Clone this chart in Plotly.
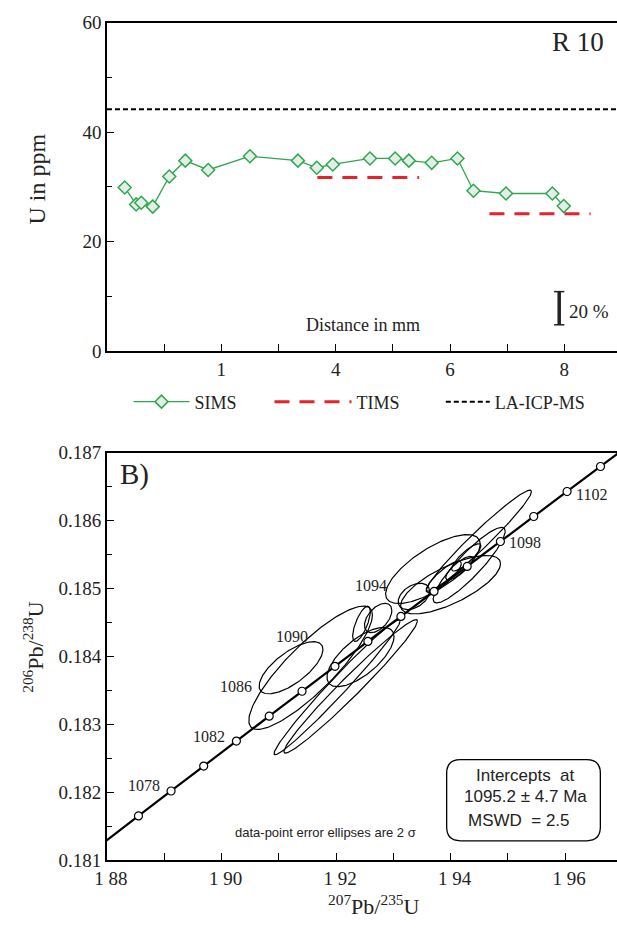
import numpy as np
import plotly.graph_objects as go

W, H = 617, 929
SERIF = "Liberation Serif"
SANS = "Liberation Sans"

# ---------------- Panel A data (U content profile) ----------------
sims_dist = [0.31, 0.51, 0.60, 0.80, 1.09, 1.37, 1.77, 2.50, 3.34, 3.67,
             3.95, 4.60, 5.04, 5.28, 5.68, 6.13, 6.41, 6.98, 7.79, 7.99]
sims_u = [29.9, 26.8, 27.1, 26.4, 31.9, 34.8, 33.1, 35.6, 34.8, 33.5,
          34.1, 35.2, 35.2, 34.8, 34.4, 35.2, 29.3, 28.8, 28.8, 26.5]
tims_dist = [3.68, 5.46, None, 6.69, 8.46]
tims_u = [31.7, 31.7, None, 25.1, 25.1]
la_dist = [0.0, 8.92]
la_u = [44.2, 44.2]

xA_tickvals = [1, 2, 3, 4, 5, 6, 7, 8]
xA_ticktext = ["", "1", "", "4", "", "6", "", "8"]
yA_tickvals = [0, 20, 40, 60]

# ---------------- Panel B data (concordia) ----------------
conc_age = [1072, 1074, 1076, 1078, 1080, 1082, 1084, 1086, 1088, 1090,
            1092, 1094, 1096, 1098, 1100, 1102, 1104, 1106]
conc_x = [1.87416, 1.87983, 1.88550, 1.89119, 1.89689, 1.90260, 1.90833, 1.91406,
          1.91981, 1.92556, 1.93133, 1.93711, 1.94290, 1.94870, 1.95452, 1.96034,
          1.96618, 1.97203]
conc_y = [0.180921, 0.181287, 0.181654, 0.182021, 0.182388, 0.182755, 0.183122,
          0.183489, 0.183856, 0.184223, 0.184591, 0.184958, 0.185326, 0.185694,
          0.186062, 0.186430, 0.186798, 0.187166]
mark_age = [1076, 1078, 1080, 1082, 1084, 1086, 1088, 1090, 1092, 1094,
            1096, 1098, 1100, 1102, 1104]

label_text = ["1078", "1082", "1086", "1090", "1094", "1098", "1102"]
label_x = [1.88650, 1.89786, 1.90256, 1.91231, 1.92615, 1.95291, 1.96453]
label_y = [0.182108, 0.182827, 0.183561, 0.184299, 0.185039, 0.185676, 0.186381]

# error ellipses: centre, 2-sigma errors, correlation
ell_x = [1.94496, 1.93692, 1.94000, 1.93359, 1.94154, 1.93880, 1.94274, 1.94325,
         1.91214, 1.91556, 1.92427, 1.92017, 1.92256, 1.92444, 1.92735]
ell_y = [0.185705, 0.185288, 0.185058, 0.184885, 0.185302, 0.185173, 0.185460, 0.185345,
         0.183835, 0.183835, 0.183993, 0.183547, 0.183561, 0.184482, 0.184568]
ell_sx = [0.00916, 0.00826, 0.00872, 0.00274, 0.00239, 0.00308, 0.00256, 0.00629,
          0.00557, 0.01079, 0.00585, 0.01101, 0.01166, 0.00154, 0.00239]
ell_sy = [0.000745, 0.000507, 0.000430, 0.000194, 0.000173, 0.000230, 0.000201, 0.000556,
          0.000384, 0.000908, 0.000436, 0.000993, 0.000982, 0.000259, 0.000216]
ell_rho = [0.971, 0.724, 0.717, 0.40, 0.80, 0.85, 0.85, 0.90,
           0.70, 0.855, 0.684, 0.983, 0.9785, 0.70, 0.50]

xB_tickvals = [1.88, 1.89, 1.90, 1.91, 1.92, 1.93, 1.94, 1.95, 1.96]
xB_ticktext = ["1 88", "", "1 90", "", "1 92", "", "1 94", "", "1 96"]

# ---------------- figure ----------------
fig = go.Figure()

GREEN = "#2ea84e"
fig.add_trace(go.Scatter(
    x=sims_dist, y=sims_u, mode="lines+markers", name="SIMS", legend="legend",
    line=dict(color=GREEN, width=1.3),
    marker=dict(symbol="diamond", size=10, color="#e4eee6",
                line=dict(color=GREEN, width=1.5)),
    xaxis="x", yaxis="y"))
fig.add_trace(go.Scatter(
    x=tims_dist, y=tims_u, mode="lines", name="TIMS", legend="legend2",
    line=dict(color="#e8212b", width=3, dash="15px,10px"),
    xaxis="x", yaxis="y"))
fig.add_trace(go.Scatter(
    x=la_dist, y=la_u, mode="lines", name="LA-ICP-MS", legend="legend3",
    line=dict(color="black", width=2, dash="5px,3px"),
    xaxis="x", yaxis="y"))

# ellipses (outline from centre / errors / correlation)
ex, ey = [], []
t = np.linspace(0, 2 * np.pi, 181)
for cx, cy, sx, sy, r in zip(ell_x, ell_y, ell_sx, ell_sy, ell_rho):
    xs = cx + sx * np.cos(t)
    ys = cy + sy * (r * np.cos(t) + np.sqrt(1 - r * r) * np.sin(t))
    ex += list(xs) + [None]
    ey += list(ys) + [None]
fig.add_trace(go.Scatter(x=ex, y=ey, mode="lines", showlegend=False,
                         line=dict(color="black", width=1.2),
                         xaxis="x2", yaxis="y2", hoverinfo="skip"))

fig.add_trace(go.Scatter(x=conc_x, y=conc_y, mode="lines", showlegend=False,
                         line=dict(color="black", width=2.2, shape="spline"),
                         xaxis="x2", yaxis="y2"))
mx = [conc_x[conc_age.index(a)] for a in mark_age]
my = [conc_y[conc_age.index(a)] for a in mark_age]
fig.add_trace(go.Scatter(x=mx, y=my, mode="markers", showlegend=False,
                         marker=dict(symbol="circle", size=8, color="white",
                                     line=dict(color="black", width=1.2)),
                         xaxis="x2", yaxis="y2"))

xdom = [96 / W, 1.0]
yA_dom = [1 - 349 / H, 1 - 13 / H]
yB_dom = [1 - 870 / H, 1 - 453 / H]

axis_common = dict(showgrid=False, zeroline=False, showline=True, linecolor="black",
                   ticks="inside", tickcolor="black", ticklen=7,
                   tickfont=dict(family=SERIF, size=19, color="#222"))


def LEG(px, iw):
    return dict(orientation="h", x=px / W, y=1 - 401 / H, xanchor="left", yanchor="middle",
                font=dict(family=SERIF, size=18, color="#222"), itemwidth=iw,
                bgcolor="rgba(0,0,0,0)", borderwidth=0)


fig.update_layout(
    width=W, height=H, margin=dict(l=0, r=0, t=0, b=0),
    plot_bgcolor="white", paper_bgcolor="white",
    xaxis=dict(domain=xdom, range=[0, 8.921], anchor="y", mirror=True, linewidth=1.5,
               tickvals=xA_tickvals, ticktext=xA_ticktext, **axis_common),
    yaxis=dict(domain=yA_dom, range=[0, 60], anchor="x", linewidth=1.5,
               tickvals=yA_tickvals,
               minor=dict(dtick=10, tick0=0, ticks="inside", ticklen=5, tickcolor="black"),
               **axis_common),
    xaxis2=dict(domain=xdom, range=[1.88, 1.96906], anchor="y2", mirror=True, linewidth=2,
                tickvals=xB_tickvals, ticktext=xB_ticktext, ticklabelshift=4,
                **axis_common),
    yaxis2=dict(domain=yB_dom, range=[0.181, 0.187], anchor="x2", linewidth=2,
                dtick=0.001, tick0=0.181, tickformat=".3f",
                minor=dict(dtick=0.0005, tick0=0.181, ticks="inside", ticklen=5,
                           tickcolor="black"),
                **axis_common),
    showlegend=True,
    legend=LEG(118, 56),
    legend2=LEG(262, 77),
    legend3=LEG(437, 44),
)


def A(text, px, py, size, family=SERIF, xa="center", ya="middle", angle=0, xref="paper",
      yref="paper"):
    if xref == "paper":
        px, py = px / W, 1 - py / H
    return dict(text=text, x=px, y=py, xref=xref, yref=yref, xanchor=xa, yanchor=ya,
                textangle=angle, showarrow=False,
                font=dict(family=family, size=size, color="#222"))


ann = [
    A("R 10", 577, 33, 27),
    A("Distance in mm", 358, 322, 18),
    A("20 %", 566, 308, 19, xa="left"),
    A("U in ppm", 25, 173, 24, angle=-90),
    A("B)", 124, 475, 29),
    A("<sup>206</sup>Pb/<sup>238</sup>U", 21, 652, 22, angle=-90),
    A("<sup>207</sup>Pb/<sup>235</sup>U", 369, 916, 22),
    A("data-point error ellipses are 2 σ", 319, 842, 13, family=SANS),
    A("Intercepts  at", 524, 783, 17, family=SANS),
    A("1095.2 ± 4.7 Ma", 524, 805, 17, family=SANS),
    A("MSWD  = 2.5", 517, 829, 17, family=SANS),
]
for txt, xx, yy in zip(label_text, label_x, label_y):
    ann.append(A(txt, xx, yy, 16, xref="x2", yref="y2"))
fig.update_layout(annotations=ann)

# rounded box for intercept text
bx0, bx1, by0, by1, rr = 443, 600, 767, 850, 14


def P(px, py):
    return f"{px / W:.5f},{1 - py / H:.5f}"


path = (f"M{P(bx0 + rr, by0)} L{P(bx1 - rr, by0)} Q{P(bx1, by0)} {P(bx1, by0 + rr)} "
        f"L{P(bx1, by1 - rr)} Q{P(bx1, by1)} {P(bx1 - rr, by1)} L{P(bx0 + rr, by1)} "
        f"Q{P(bx0, by1)} {P(bx0, by1 - rr)} L{P(bx0, by0 + rr)} Q{P(bx0, by0)} {P(bx0 + rr, by0)} Z")
shapes = [dict(type="path", path=path, xref="paper", yref="paper",
               line=dict(color="black", width=1.3))]
# 20 % scale bar
sb_x, sb_y0, sb_y1, sb_w = 7.91, 4.81, 10.87, 0.09
shapes.append(dict(type="line", x0=sb_x, x1=sb_x, y0=sb_y0, y1=sb_y1, xref="x", yref="y",
                   line=dict(color="#222", width=3.5)))
for yy in (sb_y0, sb_y1):
    shapes.append(dict(type="line", x0=sb_x - sb_w, x1=sb_x + sb_w, y0=yy, y1=yy,
                       xref="x", yref="y", line=dict(color="#222", width=1.5)))
fig.update_layout(shapes=shapes)

fig.write_html("out.html")
